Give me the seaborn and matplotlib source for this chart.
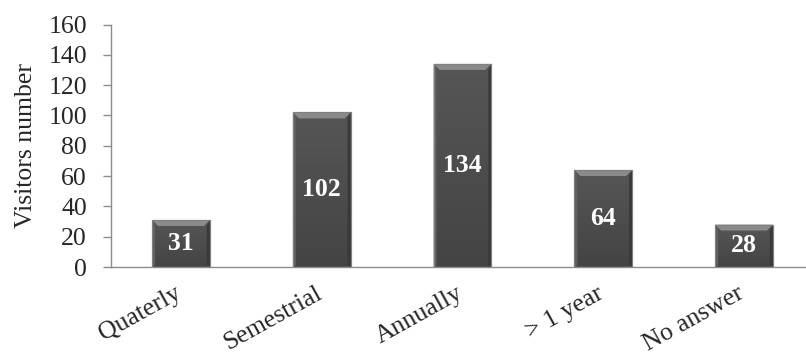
import numpy as np
import pandas as pd
import matplotlib
matplotlib.use("Agg")
import matplotlib.pyplot as plt
from matplotlib.patches import Polygon
from matplotlib.transforms import ScaledTranslation
from matplotlib.colors import LinearSegmentedColormap
import seaborn as sns

categories = ["Quaterly", "Semestrial", "Annually", "> 1 year", "No answer"]
visitors = [31, 102, 134, 64, 28]
y_ticks = [0, 20, 40, 60, 80, 100, 120, 140, 160]

df = pd.DataFrame({"category": categories, "visitors": visitors})

sns.set_style("white")
plt.rcParams["font.family"] = ["Liberation Serif", "DejaVu Serif"]

fig = plt.figure(figsize=(8.06, 3.54), dpi=100)
ax = fig.add_axes([110.6 / 806, 87 / 354, 703.75 / 806, 242.5 / 354])

sns.barplot(data=df, x="category", y="visitors", ax=ax, color="#4d4d4d",
            width=0.41, edgecolor="#7a7a7a", linewidth=0.8, saturation=1)

ax.set_xlim(-0.5, len(categories) - 0.5)
ax.set_ylim(0, 160)
ax.set_yticks(y_ticks)
ax.set_yticklabels([str(v) for v in y_ticks])

for s in ["top", "right"]:
    ax.spines[s].set_visible(False)
for s in ["left", "bottom"]:
    ax.spines[s].set_color("#8c8c8c")
    ax.spines[s].set_linewidth(1.0)

ax.tick_params(axis="y", direction="out", length=6, width=1, color="#8c8c8c",
               labelsize=18.5, pad=11, left=True)
ax.tick_params(axis="x", length=0, labelsize=18.5, pad=11)
shift = ScaledTranslation(-7 / 100, 0, fig.dpi_scale_trans)
for lab in ax.get_xticklabels():
    lab.set_rotation(29)
    lab.set_ha("right")
    lab.set_va("top")
    lab.set_rotation_mode("anchor")
    lab.set_transform(lab.get_transform() + shift)

ax.set_xlabel("")
ax.set_ylabel("Visitors number", fontsize=18.5, labelpad=8)

fig.canvas.draw()
bb = ax.get_window_extent()
px_x = (ax.get_xlim()[1] - ax.get_xlim()[0]) / bb.width
px_y = (ax.get_ylim()[1] - ax.get_ylim()[0]) / bb.height

grad = np.linspace(0, 1, 64).reshape(-1, 1)
body_cmap = LinearSegmentedColormap.from_list("body", ["#444444", "#565656"])

for patch, val in zip(ax.patches, visitors):
    x0 = patch.get_x()
    w = patch.get_width()
    x1 = x0 + w
    h = patch.get_height()
    im = ax.imshow(grad, cmap=body_cmap, extent=(x0, x1, 0, h), origin="lower",
                   aspect="auto", zorder=patch.get_zorder() + 0.1)
    im.set_clip_path(patch)
    bx = 6 * px_x
    by = 6 * px_y
    sx = 3 * px_x
    ax.add_patch(Polygon([[x0, h], [x1, h], [x1 - bx, h - by], [x0 + bx, h - by]],
                         closed=True, facecolor="#8a8a8a", edgecolor="none",
                         zorder=patch.get_zorder() + 0.2))
    ax.add_patch(Polygon([[x0, h], [x0 + sx, h - by], [x0 + sx, 2 * px_y], [x0, 0]],
                         closed=True, facecolor="#606060", edgecolor="none",
                         zorder=patch.get_zorder() + 0.2))
    ax.add_patch(Polygon([[x1, h], [x1 - sx, h - by], [x1 - sx, 2 * px_y], [x1, 0]],
                         closed=True, facecolor="#393939", edgecolor="none",
                         zorder=patch.get_zorder() + 0.2))
    ax.add_patch(Polygon([[x0, h], [x1, h], [x1, 0], [x0, 0]], closed=True,
                         facecolor="none", edgecolor="#808080", linewidth=0.8,
                         zorder=patch.get_zorder() + 0.3))
    ax.text(x0 + w / 2, h / 2, str(val), ha="center", va="center",
            color="white", fontsize=18.5, fontweight="bold", zorder=5)

ax.set_xlim(-0.5, len(categories) - 0.5)
ax.set_ylim(0, 160)

fig.savefig("out.png", dpi=100)
